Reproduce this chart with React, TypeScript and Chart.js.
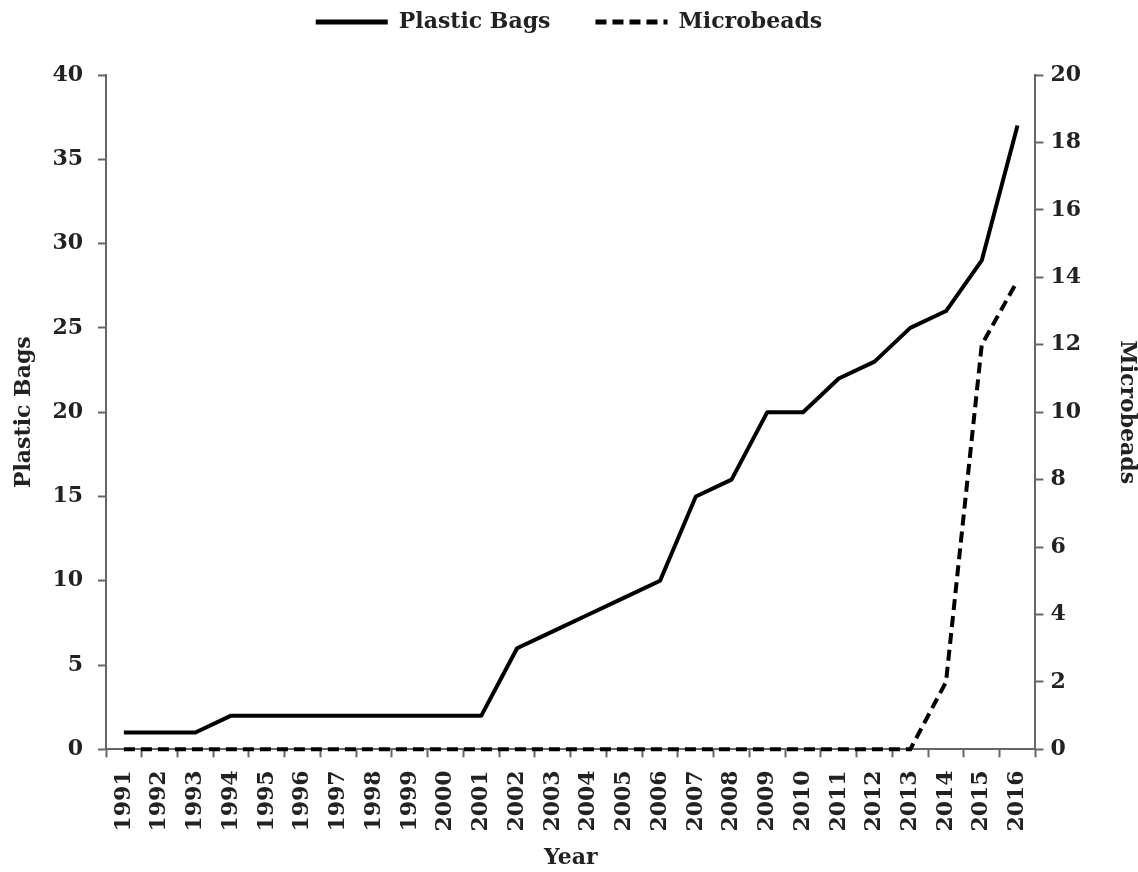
import React, { useEffect, useRef } from "react";
import { Chart, registerables } from "chart.js";

Chart.register(...registerables);

const years = [
  "1991", "1992", "1993", "1994", "1995", "1996", "1997", "1998", "1999", "2000",
  "2001", "2002", "2003", "2004", "2005", "2006", "2007", "2008", "2009", "2010",
  "2011", "2012", "2013", "2014", "2015", "2016",
];
const plasticBags = [1, 1, 1, 2, 2, 2, 2, 2, 2, 2, 2, 6, 7, 8, 9, 10, 15, 16, 20, 20, 22, 23, 25, 26, 29, 37];
const microbeads = [0, 0, 0, 0, 0, 0, 0, 0, 0, 0, 0, 0, 0, 0, 0, 0, 0, 0, 0, 0, 0, 0, 0, 2, 12, 13.9];

const leftTicks = { min: 0, max: 40, step: 5 };
const rightTicks = { min: 0, max: 20, step: 2 };

const FONT = "'DejaVu Serif', serif";
const TEXT = "#222";
const AXIS = "#666";
const DASH = [11, 6];

const legendPlugin = {
  id: "legendGap",
  beforeLayout(chart: any) {
    const legend = chart.legend;
    if (!legend || legend.__patched) return;
    legend.__patched = true;
    const fit = legend.fit;
    legend.fit = function () {
      fit.call(this);
      this.height = 75;
    };
  },
  afterLayout(chart: any) {
    if (chart.legend) chart.legend.top = -34;
  },
};

export default function App() {
  const ref = useRef<HTMLCanvasElement | null>(null);
  useEffect(() => {
    if (!ref.current) return;
    const chart = new Chart(ref.current, {
      type: "line",
      data: {
        labels: years,
        datasets: [
          {
            label: "Plastic Bags",
            data: plasticBags,
            yAxisID: "y",
            borderColor: "#000",
            backgroundColor: "#000",
            borderWidth: 4,
            pointRadius: 0,
            tension: 0,
            borderJoinStyle: "round",
            clip: false,
          } as any,
          {
            label: "Microbeads",
            data: microbeads,
            yAxisID: "y1",
            borderColor: "#000",
            backgroundColor: "#000",
            borderWidth: 4,
            borderDash: DASH,
            pointRadius: 0,
            tension: 0,
            clip: false,
          } as any,
        ],
      },
      options: {
        animation: false,
        responsive: true,
        maintainAspectRatio: false,
        layout: { padding: { top: 0, left: 0, right: 0, bottom: 0 } },
        font: { family: FONT },
        plugins: {
          tooltip: { enabled: false },
          legend: {
            position: "top",
            labels: {
              usePointStyle: true,
              pointStyle: "line",
              pointStyleWidth: 72,
              boxHeight: 22,
              padding: 45,
              color: TEXT,
              font: { family: FONT, size: 22, weight: "bold" },
              generateLabels(chart: any) {
                return chart.data.datasets.map((ds: any, i: number) => ({
                  text: ds.label,
                  fillStyle: "#000",
                  strokeStyle: "#000",
                  lineWidth: 5,
                  lineDash: ds.borderDash || [],
                  pointStyle: "line",
                  hidden: false,
                  datasetIndex: i,
                  fontColor: TEXT,
                }));
              },
            },
          },
        },
        scales: {
          x: {
            type: "category",
            offset: true,
            border: { display: true, color: AXIS, width: 2 },
            grid: {
              offset: true,
              drawOnChartArea: false,
              drawTicks: true,
              tickLength: 8,
              tickColor: AXIS,
              tickWidth: 2,
            },
            ticks: {
              color: TEXT,
              font: { family: FONT, size: 22, weight: "bold" },
              minRotation: 90,
              maxRotation: 90,
              autoSkip: false,
              padding: 13,
            },
            title: {
              display: true,
              text: "Year",
              color: TEXT,
              font: { family: FONT, size: 22, weight: "bold", lineHeight: 1.2 },
              padding: { top: 0, bottom: 1 },
            },
          },
          y: {
            position: "left",
            min: leftTicks.min,
            max: leftTicks.max,
            border: { display: true, color: AXIS, width: 2 },
            grid: {
              drawOnChartArea: false,
              drawTicks: true,
              tickLength: 8,
              tickColor: AXIS,
              tickWidth: 2,
            },
            ticks: {
              stepSize: leftTicks.step,
              color: TEXT,
              font: { family: FONT, size: 22, weight: "bold" },
              padding: 15,
            },
            title: {
              display: true,
              text: "Plastic Bags",
              color: TEXT,
              font: { family: FONT, size: 22, weight: "bold", lineHeight: 1.2 },
              padding: { top: 11, bottom: 0 },
            },
          },
          y1: {
            position: "right",
            min: rightTicks.min,
            max: rightTicks.max,
            border: { display: true, color: AXIS, width: 2 },
            grid: {
              drawOnChartArea: false,
              drawTicks: true,
              tickLength: 8,
              tickColor: AXIS,
              tickWidth: 2,
            },
            ticks: {
              stepSize: rightTicks.step,
              color: TEXT,
              font: { family: FONT, size: 22, weight: "bold" },
              padding: 7,
            },
            title: {
              display: true,
              text: "Microbeads",
              color: TEXT,
              font: { family: FONT, size: 22, weight: "bold", lineHeight: 1 },
              padding: { top: 0, bottom: 28 },
            },
          },
        },
      },
      plugins: [legendPlugin],
    } as any);
    return () => chart.destroy();
  }, []);
  return (
    <div style={{ position: "fixed", left: 0, top: 0, width: 1138, height: 872, background: "#fff" }}>
      <canvas ref={ref} />
    </div>
  );
}
